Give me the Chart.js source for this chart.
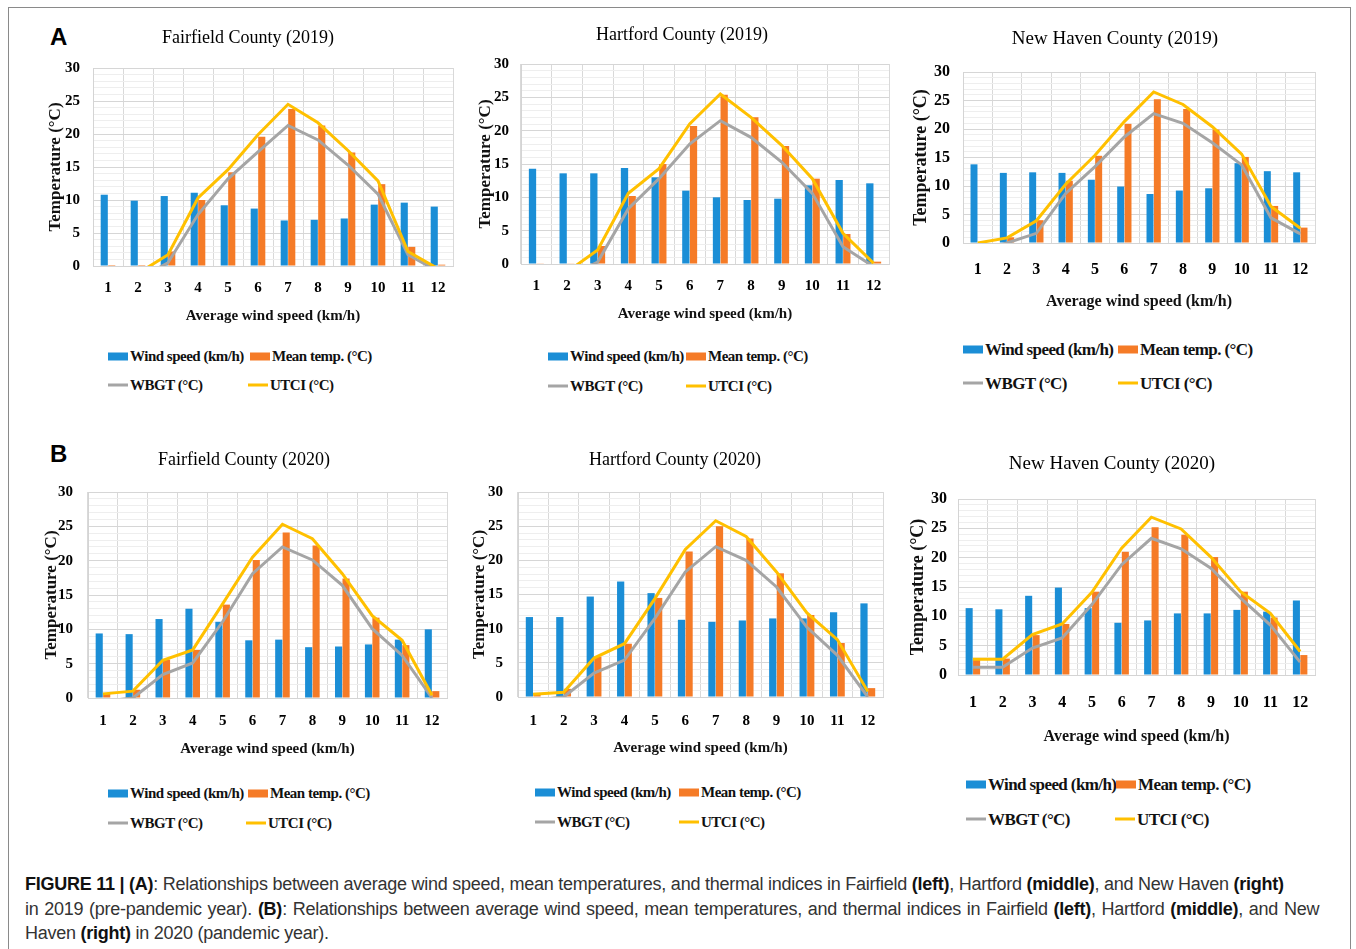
<!DOCTYPE html>
<html>
<head>
<meta charset="utf-8">
<script src="https://cdn.jsdelivr.net/npm/chart.js@4.4.1/dist/chart.umd.min.js"></script>
<style>
  html, body { margin: 0; padding: 0; background: #fff; }
  body { width: 1356px; height: 949px; position: relative; overflow: hidden; font-family: 'Liberation Serif', 'Times New Roman', serif; }
  #frame { position: absolute; left: 8px; top: 7px; width: 1343px; height: 980px; border: 1px solid #8a8a8a; box-sizing: border-box; }
  .letter { position: absolute; font-family: 'Liberation Sans', Arial, sans-serif; font-weight: bold; font-size: 24px; line-height: 1; transform: translateY(-50%); color: #000; }
  .ptitle { position: absolute; white-space: nowrap; transform: translate(-50%, -50%); color: #000; line-height: 1; }
  .chartbox { position: absolute; }
  .leg { position: absolute; white-space: nowrap; font-weight: bold; color: #111; display: flex; align-items: center; transform: translateY(-50%); line-height: 1; }
  .sw { display: inline-block; width: 20px; height: 8px; margin-right: 2px; }
  .ln { display: inline-block; width: 20px; height: 3px; margin-right: 2px; }
  #caption { position: absolute; left: 25px; top: 872px; font-family: 'Liberation Sans', Arial, sans-serif; font-size: 18px; color: #333; letter-spacing: -0.25px; }
  #caption div { height: 24.5px; line-height: 24.5px; white-space: nowrap; }
  #caption b { color: #111; }
</style>
</head>
<body>
<div id="frame"></div>
<div class="letter" style="left:50px; top:37px;">A</div>
<div class="letter" style="left:50px; top:454px;">B</div>
<div id="caption">
  <div><b>FIGURE 11 | (A)</b>: Relationships between average wind speed, mean temperatures, and thermal indices in Fairfield <b>(left)</b>, Hartford <b>(middle)</b>, and New Haven <b>(right)</b></div>
  <div style="word-spacing:1px">in 2019 (pre-pandemic year). <b>(B)</b>: Relationships between average wind speed, mean temperatures, and thermal indices in Fairfield <b>(left)</b>, Hartford <b>(middle)</b>, and New</div>
  <div>Haven <b>(right)</b> in 2020 (pandemic year).</div>
</div>
<script>
// Months along the horizontal axis
const months = ['1', '2', '3', '4', '5', '6', '7', '8', '9', '10', '11', '12'];

// Series labels and colours
const seriesLabels = ['Wind speed (km/h)', 'Mean temp. (°C)', 'WBGT (°C)', 'UTCI (°C)'];
const seriesColors = ['#1b8ed6', '#f57b27', '#a5a5a5', '#ffc000'];

// Panel titles
const panelTitles = [
  'Fairfield County (2019)', 'Hartford County (2019)', 'New Haven County (2019)',
  'Fairfield County (2020)', 'Hartford County (2020)', 'New Haven County (2020)'
];
const xAxisTitle = 'Average wind speed (km/h)';
const yAxisTitle = 'Temperature (°C)';

// Fairfield 2019
const fairfield2019Wind = [10.8, 9.9, 10.6, 11.1, 9.2, 8.7, 6.9, 7.0, 7.2, 9.3, 9.6, 9.0];
const fairfield2019Temp = [0.15, 0.15, 2.2, 10.0, 14.2, 19.6, 23.8, 21.3, 17.2, 12.4, 2.9, 0.2];
const fairfield2019Wbgt = [-3.0, -2.0, 0.5, 7.8, 13.2, 17.3, 21.3, 19.1, 15.3, 10.9, 1.7, -0.8];
const fairfield2019Utci = [-1.5, -1.1, 1.7, 10.3, 14.6, 19.9, 24.5, 21.7, 17.5, 12.9, 2.2, -0.4];

// Hartford 2019
const hartford2019Wind = [14.3, 13.6, 13.6, 14.4, 13.0, 11.0, 10.0, 9.6, 9.8, 11.8, 12.6, 12.1];
const hartford2019Temp = [0.1, 0.1, 2.7, 10.2, 15.0, 20.7, 25.4, 22.0, 17.7, 12.8, 4.5, 0.35];
const hartford2019Wbgt = [-3.0, -2.0, 0.3, 8.3, 12.8, 18.0, 21.5, 19.0, 15.3, 10.6, 2.6, -0.4];
const hartford2019Utci = [-1.8, -1.2, 2.1, 10.6, 14.3, 21.0, 25.5, 22.0, 17.8, 12.8, 4.6, 0.1];

// New Haven 2019
const newHaven2019Wind = [13.8, 12.3, 12.4, 12.3, 11.1, 9.9, 8.6, 9.2, 9.6, 14.0, 12.6, 12.4];
const newHaven2019Temp = [0, 1.0, 4.0, 10.9, 15.3, 20.9, 25.2, 23.5, 19.9, 15.1, 6.5, 2.7];
const newHaven2019Wbgt = [-1.5, 0, 1.7, 8.7, 13.4, 18.6, 22.7, 21.0, 17.6, 13.7, 4.4, 1.6];
const newHaven2019Utci = [0, 0.9, 3.9, 10.3, 15.4, 21.3, 26.5, 24.3, 20.4, 15.6, 6.4, 2.6];

// Fairfield 2020
const fairfield2020Wind = [9.4, 9.3, 11.5, 13.0, 11.1, 8.4, 8.5, 7.4, 7.5, 7.8, 8.5, 10.0];
const fairfield2020Temp = [0.7, 1.2, 5.6, 7.0, 13.6, 20.1, 24.1, 22.2, 17.4, 11.7, 7.7, 1.0];
const fairfield2020Wbgt = [-0.5, 0, 3.4, 5.1, 11.1, 18.1, 22.0, 20.1, 16.4, 10.1, 6.2, 0];
const fairfield2020Utci = [0.6, 1.0, 5.5, 7.0, 13.7, 20.5, 25.3, 23.2, 18.1, 12.0, 8.4, 0.4];

// Hartford 2020
const hartford2020Wind = [11.7, 11.7, 14.7, 16.9, 15.2, 11.3, 11.0, 11.2, 11.5, 11.5, 12.4, 13.7];
const hartford2020Temp = [0.6, 1.2, 5.9, 7.8, 14.5, 21.3, 25.0, 23.2, 18.1, 12.0, 7.9, 1.3];
const hartford2020Wbgt = [-0.5, 0, 3.5, 5.4, 11.5, 18.3, 22.0, 20.0, 16.1, 10.2, 6.1, 0];
const hartford2020Utci = [0.4, 0.7, 5.7, 7.8, 14.4, 21.6, 25.8, 23.5, 18.3, 12.3, 8.4, 0.8];

// New Haven 2020
const newHaven2020Wind = [11.4, 11.2, 13.5, 14.9, 11.4, 8.9, 9.3, 10.5, 10.5, 11.1, 10.8, 12.7];
const newHaven2020Temp = [2.6, 2.8, 6.8, 8.7, 14.2, 21.0, 25.2, 23.9, 20.1, 14.2, 9.8, 3.4];
const newHaven2020Wbgt = [1.3, 1.3, 4.6, 6.3, 12.0, 18.8, 23.3, 21.5, 18.2, 13.1, 8.5, 2.2];
const newHaven2020Utci = [2.7, 2.7, 6.9, 8.7, 14.1, 21.6, 26.9, 24.9, 20.1, 14.2, 10.5, 4.0];

const panelSeries = [
  [fairfield2019Wind, fairfield2019Temp, fairfield2019Wbgt, fairfield2019Utci],
  [hartford2019Wind, hartford2019Temp, hartford2019Wbgt, hartford2019Utci],
  [newHaven2019Wind, newHaven2019Temp, newHaven2019Wbgt, newHaven2019Utci],
  [fairfield2020Wind, fairfield2020Temp, fairfield2020Wbgt, fairfield2020Utci],
  [hartford2020Wind, hartford2020Temp, hartford2020Wbgt, hartford2020Utci],
  [newHaven2020Wind, newHaven2020Temp, newHaven2020Wbgt, newHaven2020Utci]
];

// Page layout for each panel: plot rectangle, text anchors, font sizes, legend anchors
const layouts = [
  { l: 93,  t: 68,  r: 453,  b: 266, yTitleX: 55,  xTitleY: 316, xTickY: 288, yTickR: 80,  fs: 15, tfs: 17, xfs: 15, titleX: 248,  titleY: 37,  titleFs: 18,
    legFs: 15, legLs: -0.5, leg: [[108, 356], [250, 356], [108, 385], [248, 385]] },
  { l: 521, t: 64,  r: 889,  b: 264, yTitleX: 485, xTitleY: 314, xTickY: 286, yTickR: 509, fs: 15, tfs: 17, xfs: 15, titleX: 682,  titleY: 34,  titleFs: 18,
    legFs: 15, legLs: -0.5, leg: [[548, 356], [686, 356], [548, 386], [686, 386]] },
  { l: 963, t: 72,  r: 1315, b: 243, yTitleX: 922, xTitleY: 301, xTickY: 270, yTickR: 950, fs: 16, tfs: 18, xfs: 16, titleX: 1115, titleY: 37,  titleFs: 19,
    legFs: 17, legLs: -0.6, leg: [[963, 349], [1118, 349], [963, 383], [1118, 383]] },
  { l: 88,  t: 492, r: 447,  b: 698, yTitleX: 51,  xTitleY: 749, xTickY: 721, yTickR: 73,  fs: 15, tfs: 17, xfs: 15, titleX: 244,  titleY: 459, titleFs: 18,
    legFs: 15, legLs: -0.5, leg: [[108, 793], [248, 793], [108, 823], [246, 823]] },
  { l: 518, t: 492, r: 883,  b: 697, yTitleX: 479, xTitleY: 748, xTickY: 721, yTickR: 503, fs: 15, tfs: 17, xfs: 15, titleX: 675,  titleY: 459, titleFs: 18,
    legFs: 15, legLs: -0.5, leg: [[535, 792], [679, 792], [535, 822], [679, 822]] },
  { l: 958, t: 499, r: 1315, b: 675, yTitleX: 919, xTitleY: 736, xTickY: 703, yTickR: 947, fs: 16, tfs: 18, xfs: 16, titleX: 1112, titleY: 462, titleFs: 19,
    legFs: 17, legLs: -0.6, leg: [[966, 784], [1116, 784], [966, 819], [1115, 819]] }
];

Chart.defaults.font.family = "'Liberation Serif', 'Times New Roman', serif";
Chart.defaults.color = '#000';

function addText(cls, text, x, y, size) {
  const el = document.createElement('div');
  el.className = cls;
  el.textContent = text;
  el.style.left = x + 'px';
  el.style.top = y + 'px';
  el.style.fontSize = size + 'px';
  document.body.appendChild(el);
  return el;
}

function addLegend(L) {
  L.leg.forEach((pos, i) => {
    const item = document.createElement('div');
    item.className = 'leg';
    item.style.left = pos[0] + 'px';
    item.style.top = pos[1] + 'px';
    item.style.fontSize = L.legFs + 'px';
    item.style.letterSpacing = L.legLs + 'px';
    const mark = document.createElement('span');
    mark.className = i < 2 ? 'sw' : 'ln';
    mark.style.background = seriesColors[i];
    item.appendChild(mark);
    item.appendChild(document.createTextNode(seriesLabels[i]));
    document.body.appendChild(item);
  });
}

function buildPanel(idx) {
  const L = layouts[idx];
  const series = panelSeries[idx];
  // generous outer padding so tick-label overflow never shifts the plot area
  const padTop = 40, padRight = 26;
  const yTitleLH = L.tfs * 1.2, xTitleLH = L.xfs * 1.2;
  const left = Math.round(L.yTitleX - yTitleLH / 2);
  const top = L.t - padTop;
  const bottom = Math.round(L.xTitleY + xTitleLH / 2);
  const width = L.r + padRight - left;
  const height = bottom - top;
  const yW = L.l - left;
  const xH = bottom - L.b;

  const box = document.createElement('div');
  box.className = 'chartbox';
  box.style.left = left + 'px';
  box.style.top = top + 'px';
  box.style.width = width + 'px';
  box.style.height = height + 'px';
  const cv = document.createElement('canvas');
  cv.width = width; cv.height = height;
  cv.style.width = width + 'px'; cv.style.height = height + 'px';
  box.appendChild(cv);
  document.body.appendChild(box);

  addText('ptitle', panelTitles[idx], L.titleX, L.titleY, L.titleFs);
  addLegend(L);

  new Chart(cv.getContext('2d'), {
    type: 'bar',
    data: {
      labels: months,
      datasets: [
        { type: 'line', label: seriesLabels[3], data: series[3], borderColor: seriesColors[3], backgroundColor: seriesColors[3],
          borderWidth: 3, pointRadius: 0, tension: 0, order: 0 },
        { type: 'line', label: seriesLabels[2], data: series[2], borderColor: seriesColors[2], backgroundColor: seriesColors[2],
          borderWidth: 3, pointRadius: 0, tension: 0, order: 1 },
        { type: 'bar', label: seriesLabels[0], data: series[0], backgroundColor: seriesColors[0],
          categoryPercentage: 0.5, barPercentage: 0.95, order: 2 },
        { type: 'bar', label: seriesLabels[1], data: series[1], backgroundColor: seriesColors[1],
          categoryPercentage: 0.5, barPercentage: 0.95, order: 2 }
      ]
    },
    options: {
      responsive: false,
      animation: false,
      devicePixelRatio: 1,
      layout: { padding: { top: padTop, right: padRight, left: 0, bottom: 0 } },
      plugins: { legend: { display: false }, tooltip: { enabled: false }, title: { display: false } },
      scales: {
        x: {
          offset: true,
          grid: { offset: true, color: '#d9d9d9', drawTicks: false },
          border: { color: '#d4d4d4' },
          ticks: { font: { size: L.fs, weight: 'bold' }, padding: L.xTickY - L.b - L.fs * 0.6, color: '#000' },
          title: { display: true, text: xAxisTitle, font: { size: L.xfs, weight: 'bold' }, padding: 0, color: '#111' },
          afterFit: s => { s.height = xH; }
        },
        y: {
          min: 0, max: 30,
          grid: {
            drawTicks: false,
            color: ctx => (ctx.tick && ctx.tick.value % 5 === 0) ? '#d6d6d6' : '#eeeeee'
          },
          border: { color: '#d4d4d4' },
          ticks: {
            stepSize: 1, autoSkip: false,
            font: { size: L.fs, weight: 'bold' }, padding: L.l - L.yTickR, color: '#000',
            callback: v => (v % 5 === 0 ? String(v) : '')
          },
          title: { display: true, text: yAxisTitle, font: { size: L.tfs, weight: 'bold' }, padding: 0, color: '#111' },
          afterFit: s => { s.width = yW; }
        }
      }
    }
  });
}

for (let i = 0; i < 6; i++) buildPanel(i);
</script>
</body>
</html>
